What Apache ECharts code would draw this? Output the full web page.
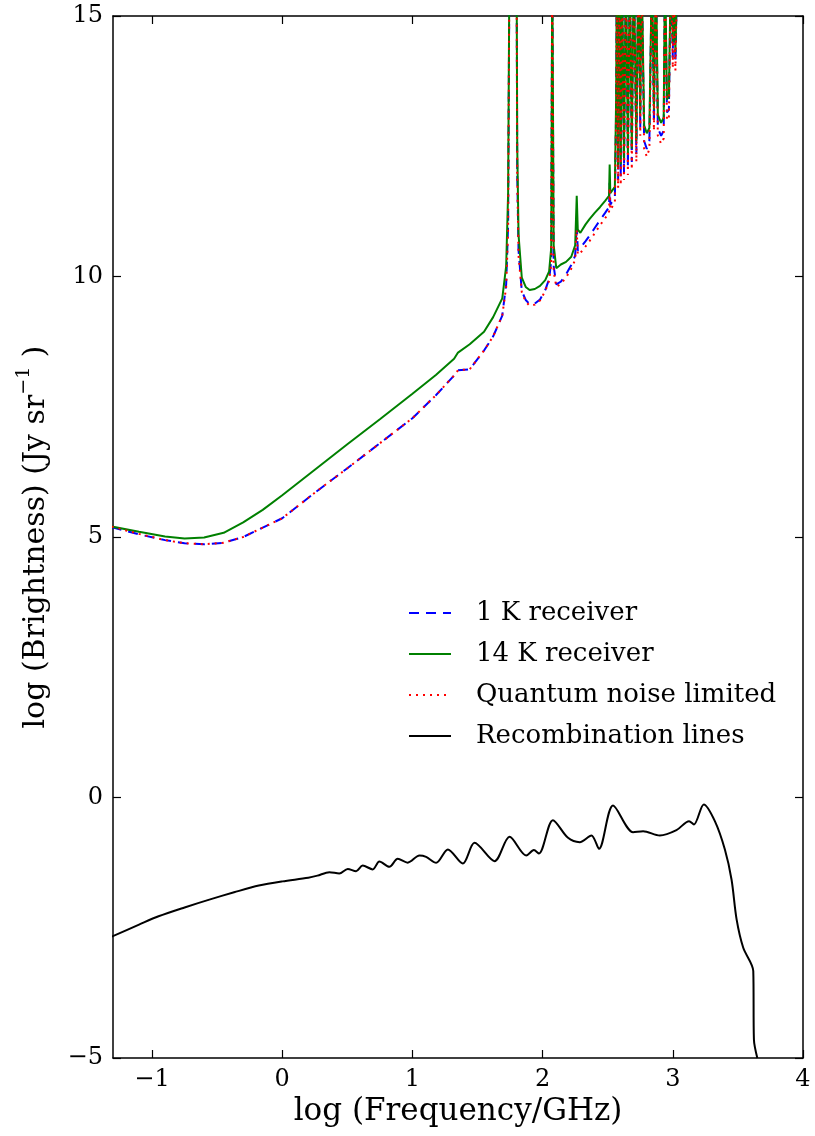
<!DOCTYPE html>
<html>
<head>
<meta charset="utf-8">
<script src="https://cdn.jsdelivr.net/npm/echarts@6/dist/echarts.min.js"></script>
<style>
html,body{margin:0;padding:0;background:#fff;}
#chart{width:815px;height:1136px;}
</style>
</head>
<body>
<div id="chart"></div>
<script>
// ---- data ----
var xTicks = [-1, 0, 1, 2, 3, 4];
var yTicks = [-5, 0, 5, 10, 15];

var upperX = [
  -1.31,-1.1,-0.9,-0.75,-0.6,-0.45,-0.3,-0.15,0,0.25,0.5,0.75,1.0,1.18,1.32,1.35,1.44,1.55,1.62,1.69,
  1.72,1.735,1.745,1.80,1.805,1.815,1.84,1.87,1.90,1.94,1.98,2.02,2.05,2.066,2.074,2.078,2.085,
  2.105,2.14,2.18,2.22,2.25,2.262,2.27,2.29,2.33,2.36,2.40,2.44,2.48,2.51,2.515,2.52,2.555,
  2.565,2.57,2.58,2.59,2.60,2.61,2.625,2.64,2.655,2.67,2.685,2.70,2.72,2.735,2.75,2.76,2.78,2.80,2.82,2.84,2.855,2.87,2.885,2.91,2.93,2.94,2.955,2.97,2.985,3.0,3.005,3.02,3.035
];
var receiver1K = [
  5.19,5.05,4.94,4.88,4.86,4.89,5.00,5.18,5.36,5.85,6.32,6.80,7.28,7.72,8.10,8.20,8.22,8.58,8.85,9.25,
  9.85,11.0,16,16,12.0,10.5,9.72,9.55,9.47,9.48,9.56,9.74,9.95,10.3,16,16,10.2,
  9.85,9.90,10.04,10.22,10.4,11.0,10.5,10.55,10.68,10.78,10.93,11.08,11.22,11.33,11.8,11.38,11.52,
  13.2,16,11.85,16,11.9,16,12.0,16,12.1,16,12.2,16,12.35,16,12.85,16,12.6,12.45,12.6,16,12.95,16,12.85,12.7,12.8,16,13.15,13.2,16,14.2,16,14.1,16
];
var receiver14K = [
  5.20,5.10,5.01,4.97,4.99,5.08,5.28,5.52,5.80,6.29,6.78,7.26,7.75,8.11,8.42,8.54,8.70,8.94,9.22,9.58,
  10.2,11.6,16,16,12.5,10.8,9.98,9.80,9.74,9.76,9.82,9.93,10.1,10.55,16,16,10.6,
  10.16,10.23,10.28,10.38,10.6,11.55,10.9,10.84,11.0,11.1,11.22,11.33,11.45,11.55,12.15,11.6,11.72,
  13.5,16,12.1,16,12.15,16,12.25,16,12.35,16,12.45,16,12.6,16,13.1,16,12.9,12.75,12.85,16,13.2,16,13.1,12.95,13.05,16,13.4,13.45,16,14.5,16,14.3,16
];
var quantumLimited = [
  5.20,5.06,4.94,4.88,4.86,4.89,5.00,5.18,5.36,5.85,6.32,6.80,7.28,7.72,8.10,8.20,8.22,8.58,8.85,9.25,
  9.80,10.9,16,16,11.9,10.4,9.70,9.52,9.44,9.46,9.54,9.72,9.92,10.25,16,16,10.1,
  9.80,9.86,9.98,10.15,10.32,10.9,10.42,10.45,10.58,10.68,10.83,10.98,11.12,11.22,11.7,11.28,11.42,
  13.1,16,11.7,16,11.75,16,11.85,16,11.95,16,12.05,16,12.2,16,12.7,16,12.45,12.3,12.45,16,12.8,16,12.7,12.55,12.65,16,13.0,13.05,16,14.0,16,13.95,16
];

var recombX = [
  -1.31,-1.1,-0.95,-0.75,-0.56,-0.37,-0.18,0.0,0.2,0.27,0.362,0.438,0.503,0.567,0.618,0.695,0.746,0.823,0.887,0.964,
  1.054,1.105,1.182,1.272,1.387,1.477,1.631,1.746,1.874,1.933,1.972,2.079,2.195,2.285,2.375,2.433,
  2.541,2.695,2.772,2.90,3.028,3.125,3.162,3.238,3.323,3.40,3.451,3.49,3.541,3.618,3.623,3.649
];
var recombY = [
  -2.67,-2.44,-2.28,-2.11,-1.96,-1.82,-1.69,-1.61,-1.54,-1.50,-1.433,-1.459,-1.37,-1.415,-1.305,-1.38,-1.228,-1.33,-1.177,-1.25,
  -1.113,-1.14,-1.254,-0.998,-1.267,-0.87,-1.222,-0.755,-1.113,-1.01,-1.075,-0.435,-0.774,-0.857,-0.729,-0.985,
  -0.154,-0.665,-0.646,-0.729,-0.627,-0.454,-0.518,-0.134,-0.454,-0.998,-1.574,-2.34,-2.885,-3.33,-4.645,-5.0
];

var seriesNames = ['1 K receiver', '14 K receiver', 'Quantum noise limited', 'Recombination lines'];

function pairs(xs, ys) { return xs.map(function (x, i) { return [x, ys[i]]; }); }
function fmt(v) { return v < 0 ? '\u2212' + Math.abs(v) : String(v); }

var FONT = 'DejaVu Serif';
var chart = echarts.init(document.getElementById('chart'), null, {renderer: 'canvas'});

var axisLine = {show: true, onZero: false, lineStyle: {color: '#000', width: 1.5}};
var tickStyle = {inside: true, length: 8, lineStyle: {color: '#000', width: 1.2}};

chart.setOption({
  animation: false,
  backgroundColor: '#fff',
  grid: {left: 113, right: 12, top: 16, bottom: 78, containLabel: false},
  xAxis: [{
    type: 'value', min: -1.3, max: 4, position: 'bottom',
    axisLine: axisLine,
    axisTick: Object.assign({customValues: xTicks}, tickStyle),
    axisLabel: {customValues: xTicks, formatter: fmt, fontFamily: FONT, fontSize: 24, color: '#000', margin: 10},
    splitLine: {show: false},
    name: 'log (Frequency/GHz)', nameLocation: 'middle', nameGap: 31,
    nameTextStyle: {fontFamily: FONT, fontSize: 31, color: '#000'}
  }, {
    type: 'value', min: -1.3, max: 4, position: 'top',
    axisLine: axisLine,
    axisTick: Object.assign({customValues: xTicks}, tickStyle),
    axisLabel: {show: false}, splitLine: {show: false}
  }],
  yAxis: [{
    type: 'value', min: -5, max: 15, interval: 5, position: 'left',
    axisLine: axisLine, axisTick: tickStyle,
    axisLabel: {formatter: fmt, fontFamily: FONT, fontSize: 24, color: '#000', margin: 10},
    splitLine: {show: false},
    name: '{m|log (Brightness) (Jy sr}{s|\u22121}{m| )}', nameLocation: 'middle', nameGap: 62, nameRotate: 90,
    nameTextStyle: {fontFamily: FONT, fontSize: 30, color: '#000',
      rich: {m: {fontFamily: FONT, fontSize: 30, color: '#000', lineHeight: 36, verticalAlign: 'bottom'},
             s: {fontFamily: FONT, fontSize: 19, color: '#000', lineHeight: 36, verticalAlign: 'top'}}}
  }, {
    type: 'value', min: -5, max: 15, interval: 5, position: 'right',
    axisLine: axisLine, axisTick: tickStyle,
    axisLabel: {show: false}, splitLine: {show: false}
  }],
  legend: {
    orient: 'vertical', left: 403, top: 595, itemWidth: 42, itemHeight: 14, itemGap: 15,
    data: seriesNames,
    itemStyle: {color: 'rgba(0,0,0,0)', borderColor: 'rgba(0,0,0,0)', borderWidth: 0},
    textStyle: {fontFamily: FONT, fontSize: 26, color: '#000', padding: [0, 0, 0, 20]}
  },
  series: [{
    name: seriesNames[0], type: 'line', data: pairs(upperX, receiver1K), symbol: 'none', clip: true,
    lineStyle: {color: '#0000ff', width: 2, type: [10, 7]}, itemStyle: {color: '#0000ff'}
  }, {
    name: seriesNames[1], type: 'line', data: pairs(upperX, receiver14K), symbol: 'none', clip: true,
    lineStyle: {color: '#008000', width: 2, type: 'solid'}, itemStyle: {color: '#008000'}
  }, {
    name: seriesNames[2], type: 'line', data: pairs(upperX, quantumLimited), symbol: 'none', clip: true,
    lineStyle: {color: '#ff0000', width: 2, type: [2, 5]}, itemStyle: {color: '#ff0000'}
  }, {
    name: seriesNames[3], type: 'line', data: pairs(recombX, recombY), symbol: 'none', clip: true,
    smooth: 0.3,
    lineStyle: {color: '#000', width: 2}, itemStyle: {color: '#000'}
  }]
});
</script>
</body>
</html>
